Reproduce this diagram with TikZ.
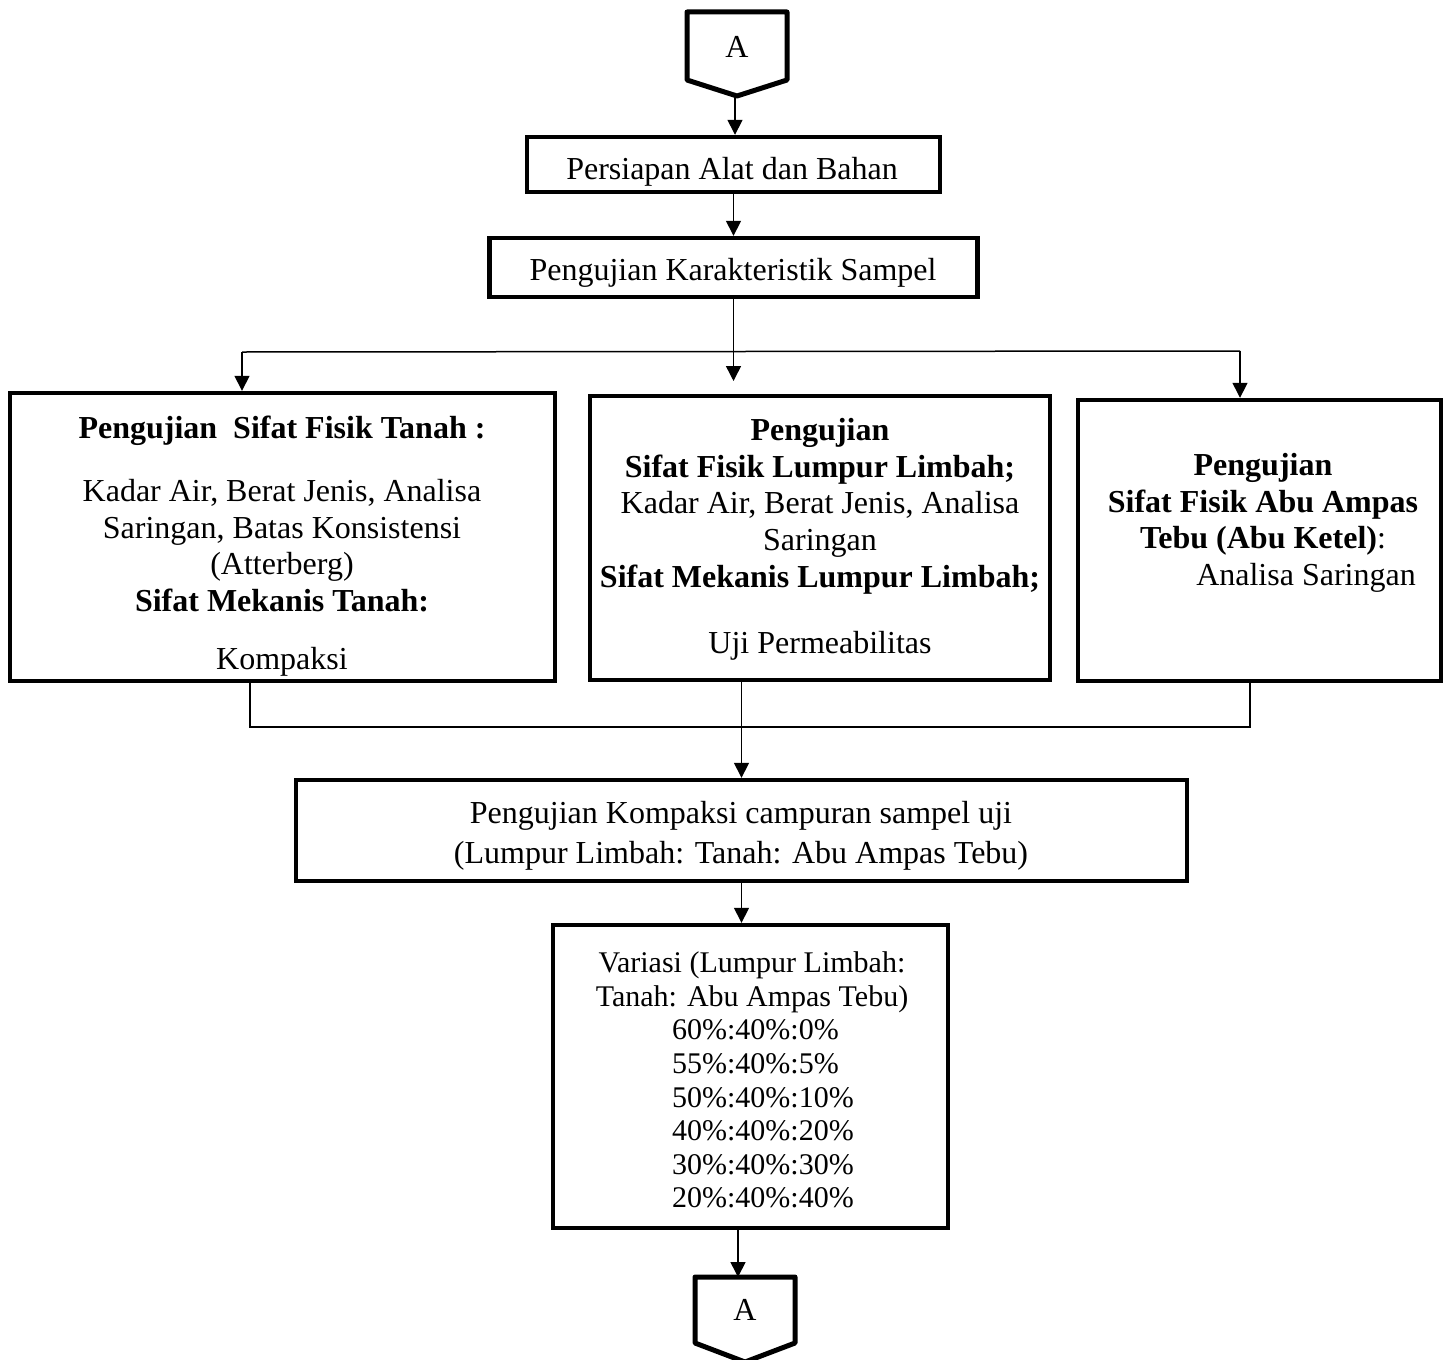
\documentclass[tikz,border=0pt]{standalone}
\usepackage{fontspec}
\setmainfont{Liberation Serif}
\usetikzlibrary{arrows.meta}
\begin{document}
\begin{tikzpicture}[x=0.5pt,y=-0.5pt,
  box/.style={draw,line width=2.2pt,inner sep=0pt},
  offpage/.style={draw,line width=2.5pt,line join=round},
  conn/.style={line width=0.75pt},
  arr/.style={conn,-{Triangle[length=7.5pt,width=7.5pt]}},
  txt/.style={align=center,inner sep=0pt,font=\fontsize{16pt}{18.3pt}\selectfont}]
\useasboundingbox (0,0) rectangle (1443,1359);

% off-page connector top
\draw[offpage] (687,12) -- (787,12) -- (787,80) -- (737,96) -- (687,80) -- cycle;
\node[txt] (Atop) at (737,47) {A};
\coordinate (topTip) at (735,97);

% boxes
\node[box,minimum width=206.5pt,minimum height=27.5pt] (b1) at (733.5,164.5) {};
\node[box,minimum width=244pt,minimum height=29.5pt] (b2) at (733.5,267.5) {};
\node[box,minimum width=272.5pt,minimum height=144pt] (bL) at (282.5,537) {};
\node[box,minimum width=230pt,minimum height=142pt] (bM) at (820,538) {};
\node[box,minimum width=181.5pt,minimum height=140.5pt] (bR) at (1259.5,540.5) {};
\node[box,minimum width=445.5pt,minimum height=50.5pt] (bK) at (741.5,830.5) {};
\node[box,minimum width=197.5pt,minimum height=151.5pt] (bV) at (750.5,1076.5) {};

% texts
\node[txt] (t1) at (732,172) {Persiapan Alat dan Bahan};
\node[txt] (t2) at (733,273) {Pengujian Karakteristik Sampel};
\node[txt] (tL) at (282,546.5) {\textbf{Pengujian\ \ Sifat Fisik Tanah :}\\[13pt]
  Kadar Air, Berat Jenis, Analisa\\ Saringan, Batas Konsistensi\\ (Atterberg)\\
  \textbf{Sifat Mekanis Tanah:}\\[11pt] Kompaksi};
\node[txt] (tM) at (820,539.5) {\textbf{Pengujian}\\ \textbf{Sifat Fisik Lumpur Limbah;}\\
  Kadar Air, Berat Jenis, Analisa\\ Saringan\\ \textbf{Sifat Mekanis Lumpur Limbah;}\\[15pt]
  Uji Permeabilitas};
\node[txt] (tR) at (1263,523) {\textbf{Pengujian}\\ \textbf{Sifat Fisik Abu Ampas}\\
  \textbf{Tebu (Abu Ketel)}:\\ \hspace*{43pt}Analisa Saringan};
\node[txt,font=\fontsize{16pt}{20pt}\selectfont] (tK) at (741,836) {Pengujian Kompaksi campuran sampel uji\\
  (Lumpur Limbah: Tanah: Abu Ampas Tebu)};
\node[txt,font=\fontsize{15pt}{16.8pt}\selectfont] (tV) at (752,1080) {Variasi (Lumpur Limbah:\\
  Tanah: Abu Ampas Tebu)\\
  \hspace*{11pt}\makebox[6.06em][l]{60\%:40\%:0\%}\\
  \hspace*{11pt}\makebox[6.06em][l]{55\%:40\%:5\%}\\
  \hspace*{11pt}\makebox[6.06em][l]{50\%:40\%:10\%}\\
  \hspace*{11pt}\makebox[6.06em][l]{40\%:40\%:20\%}\\
  \hspace*{11pt}\makebox[6.06em][l]{30\%:40\%:30\%}\\
  \hspace*{11pt}\makebox[6.06em][l]{20\%:40\%:40\%}};

% off-page connector bottom
\draw[offpage] (695,1277) -- (795,1277) -- (795,1343) -- (745,1362) -- (695,1343) -- cycle;
\node[txt] (Abot) at (745,1310) {A};
\coordinate (botTop) at (738,1277);

% connectors
\draw[arr] (topTip) -- (topTip |- b1.north);
\draw[arr] (b1.south) -- (b2.north);
\coordinate (mEnd) at (733.5,381);
\draw[arr] (b2.south) -- (mEnd);
\coordinate (hL) at (242,352);
\coordinate (hR) at (1240,351);
\draw[conn] (hL) -- (hR);
\draw[arr] (hL) -- (hL |- bL.north);
\draw[arr] (hR) -- (hR |- bR.north);
\coordinate (jL) at (250,727);
\coordinate (jR) at (1250,727);
\draw[conn] (bL.south -| jL) -- (jL) -- (jR) -- (bR.south -| jR);
\draw[arr] (bM.south -| bK.north) -- (bK.north);
\draw[arr] (bK.south) -- (bK.south |- bV.north);
\draw[arr] (bV.south -| botTop) -- (botTop);
\end{tikzpicture}
\end{document}
